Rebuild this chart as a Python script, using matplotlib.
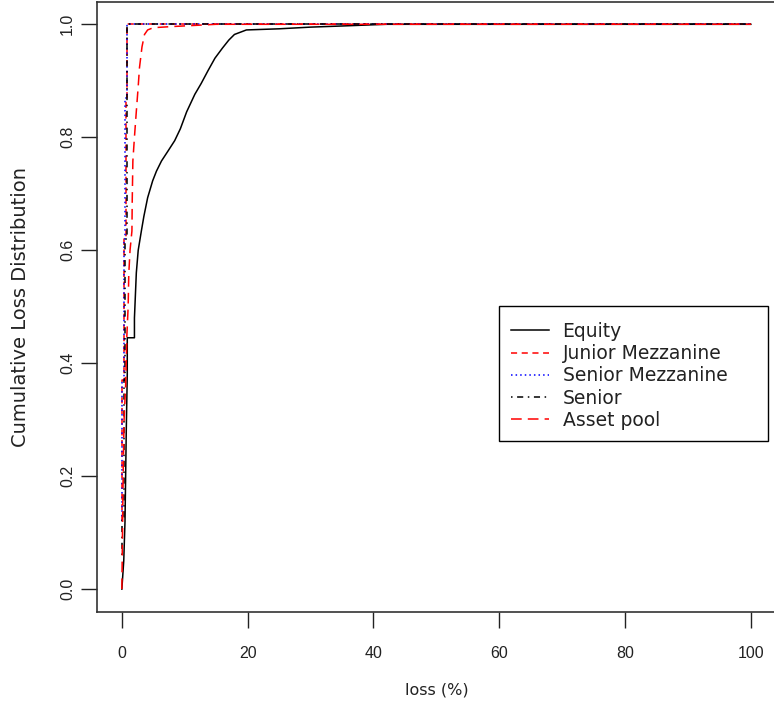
import numpy as np
import matplotlib
matplotlib.use('Agg')
import matplotlib.pyplot as plt
from matplotlib.patches import Rectangle

plt.rcParams['font.family'] = ['DejaVu Sans']

equity_x = [0, 0.3, 0.5, 0.7, 0.86, 0.86, 2.0, 2.0, 2.3, 2.6, 3.1, 3.5, 4.1, 4.9,
            5.5, 6.3, 7.3, 8.4, 9.3, 10.3, 11.6, 12.6, 13.7, 14.8, 16.0, 17.0,
            17.9, 19.8, 25.0, 30.0, 35.0, 42.0, 100.0]
equity_y = [0.0, 0.05, 0.12, 0.28, 0.38, 0.445, 0.445, 0.48, 0.56, 0.60, 0.634,
            0.66, 0.693, 0.723, 0.74, 0.758, 0.775, 0.794, 0.815, 0.845, 0.876,
            0.895, 0.918, 0.94, 0.958, 0.972, 0.982, 0.99, 0.992, 0.995, 0.997,
            1.0, 1.0]

jr_mezz_x = [0, 0.1, 0.3, 0.6, 0.8, 100.0]
jr_mezz_y = [0.12, 0.37, 0.62, 0.87, 1.0, 1.0]

sr_mezz_x = [0, 0.1, 0.3, 0.55, 0.8, 100.0]
sr_mezz_y = [0.12, 0.37, 0.62, 0.87, 1.0, 1.0]

senior_x = [0, 0.05, 0.27, 0.43, 0.75, 0.8, 100.0]
senior_y = [0.06, 0.127, 0.37, 0.62, 0.87, 1.0, 1.0]

pool_x = [0, 0.1, 0.2, 0.35, 0.6, 0.8, 1.0, 1.1, 1.3, 1.6, 1.65, 1.75, 2.0, 2.3,
          2.6, 2.8, 3.2, 3.6, 4.1, 5.0, 8.0, 15.0, 100.0]
pool_y = [0.0, 0.1, 0.2, 0.3, 0.36, 0.45, 0.5, 0.558, 0.6, 0.634, 0.688, 0.758,
          0.8, 0.846, 0.89, 0.923, 0.96, 0.982, 0.99, 0.994, 0.996, 1.0, 1.0]

xticks = [0, 20, 40, 60, 80, 100]
yticks = [0.0, 0.2, 0.4, 0.6, 0.8, 1.0]

fig = plt.figure(figsize=(7.74, 7.08), dpi=100)
ax = fig.add_axes([96.7 / 774, 1 - 611.7 / 708, (776 - 96.7) / 774, (611.7 - 1.7) / 708])

lw = 1.1
ax.plot(equity_x, equity_y, color='black', lw=lw, label='Equity')
ax.plot(jr_mezz_x, jr_mezz_y, color='red', lw=lw, ls=(0, (4, 3)), drawstyle='steps-post',
        label='Junior Mezzanine')
ax.plot(sr_mezz_x, sr_mezz_y, color='blue', lw=lw, ls=(0, (1, 2)), drawstyle='steps-post',
        label='Senior Mezzanine')
ax.plot(senior_x, senior_y, color='black', lw=lw, ls=(0, (1, 3, 4, 3)), drawstyle='steps-post',
        label='Senior')
ax.plot(pool_x, pool_y, color='red', lw=lw, ls=(0, (7, 4)), label='Asset pool')

ax.set_xlim(-4, 104)
ax.set_ylim(-0.04, 1.04)
ax.set_xticks(xticks)
ax.set_xticklabels([str(v) for v in xticks], fontfamily='Liberation Sans', fontsize=11.5)
ax.set_yticks(yticks)
ax.set_yticklabels(['%.1f' % v for v in yticks], rotation=90, va='center',
                   fontfamily='Liberation Sans', fontsize=11.5)
ax.tick_params(direction='out', length=11.5, width=1, colors='#222222')
ax.tick_params(axis='x', pad=13)
ax.tick_params(axis='y', pad=4)
for s in ax.spines.values():
    s.set_color('#333333')
    s.set_linewidth(1.2)

ax.set_xlabel('loss (%)', fontsize=11.5, labelpad=16, color='#222222')
ax.set_ylabel('Cumulative Loss Distribution', fontsize=14, labelpad=22, color='#222222')

leg = ax.legend(loc='upper left', bbox_to_anchor=(511 / 774, 1 - 322 / 708),
                bbox_transform=fig.transFigure, frameon=False, fontsize=13.5,
                handlelength=2.0, handletextpad=0.75, labelspacing=0.17,
                borderpad=0, borderaxespad=0)
for t in leg.get_texts():
    t.set_color('#222222')
fig.add_artist(Rectangle((499 / 774, 1 - 441 / 708), (768 - 499) / 774, (441 - 306) / 708,
                         transform=fig.transFigure, fill=False, edgecolor='black', lw=1.0))

fig.savefig('out.png', dpi=100)
